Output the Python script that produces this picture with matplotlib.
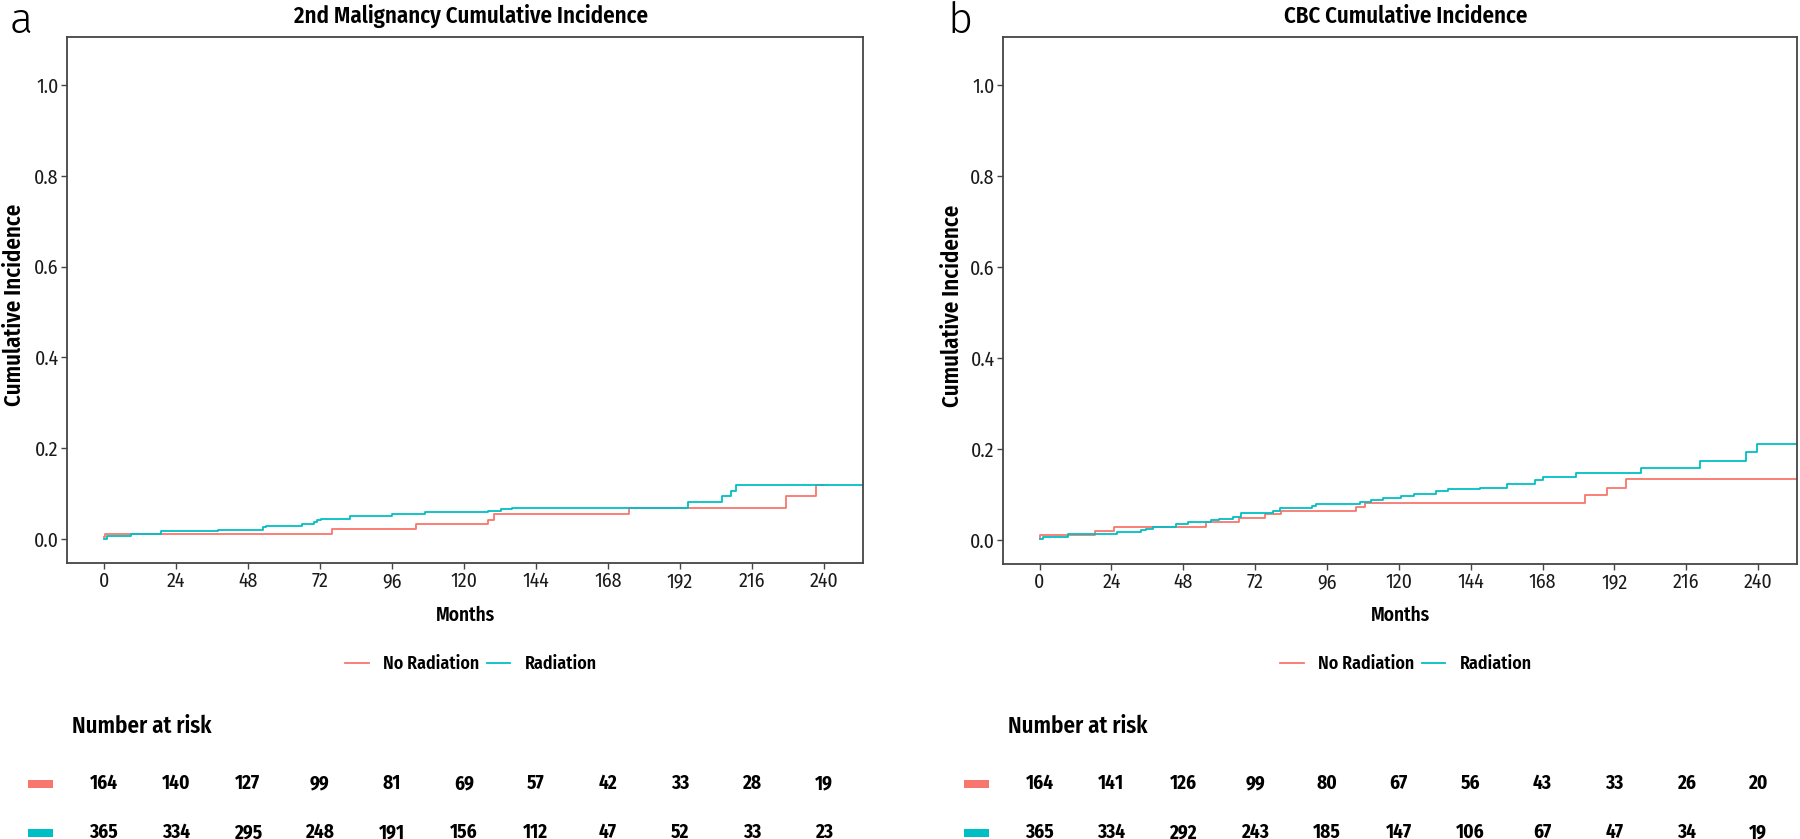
import matplotlib
matplotlib.use("Agg")
import matplotlib.pyplot as plt
from matplotlib.patches import Rectangle
from matplotlib.transforms import blended_transform_factory

plt.rcParams["font.family"] = ["Fira Sans Condensed", "DejaVu Sans"]

RED = "#F8766D"
CYAN = "#00BFC4"

# --- data ---
months_ticks = [0, 24, 48, 72, 96, 120, 144, 168, 192, 216, 240]
group_labels = ["No Radiation", "Radiation"]

# panel a: 2nd malignancy
a_norad_t = [0, 0.3, 76, 104, 128, 130, 175, 227.5, 237.3, 240]
a_norad_v = [0.004, 0.012, 0.022, 0.033, 0.042, 0.054, 0.068, 0.094, 0.118, 0.118]
a_rad_t = [0, 1, 9, 19, 38, 53, 54, 66, 70, 71, 72.5, 82, 96, 107, 128, 132.5,
           136, 194.8, 206, 209, 210.8, 254]
a_rad_v = [0.0, 0.007, 0.012, 0.017, 0.0205, 0.026, 0.029, 0.034, 0.037, 0.041,
           0.045, 0.050, 0.054, 0.059, 0.062, 0.066, 0.068, 0.081, 0.094, 0.105,
           0.118, 0.118]
a_risk_norad = [164, 140, 127, 99, 81, 69, 57, 42, 33, 28, 19]
a_risk_rad = [365, 334, 295, 248, 191, 156, 112, 47, 52, 33, 23]

# panel b: CBC
b_norad_t = [0, 0.3, 18.4, 25, 55.5, 66.6, 75.2, 80.7, 105.8, 108.6, 182.3,
             189.5, 195.9, 254]
b_norad_v = [0.003, 0.0103, 0.019, 0.029, 0.040, 0.048, 0.057, 0.063, 0.072,
             0.082, 0.0985, 0.115, 0.135, 0.135]
b_rad_t = [0, 1, 9.5, 26, 34, 35.6, 38, 45.7, 49.5, 57.3, 60, 64.6, 67.4, 78,
           80.2, 91, 92.4, 107, 110.8, 114.7, 120.8, 125, 132.3, 136.4, 147,
           156.3, 165.6, 168, 179.3, 200.9, 220.5, 236, 239.7, 254]
b_rad_v = [0.0015, 0.006, 0.014, 0.018, 0.021, 0.025, 0.029, 0.035, 0.039,
           0.043, 0.047, 0.051, 0.060, 0.063, 0.071, 0.075, 0.080, 0.083, 0.088,
           0.092, 0.096, 0.102, 0.107, 0.111, 0.115, 0.123, 0.132, 0.139, 0.147,
           0.159, 0.173, 0.193, 0.212, 0.212]
b_risk_norad = [164, 141, 126, 99, 80, 67, 56, 43, 33, 26, 20]
b_risk_rad = [365, 334, 292, 243, 185, 147, 106, 67, 47, 34, 19]

W, H = 1800, 839
fig = plt.figure(figsize=(W / 100, H / 100), dpi=100)
renderer = fig.canvas.get_renderer()


def px(x, y):
    return x / W, 1 - y / H


def size_for(s, width_px, **kw):
    # font size that makes string s about width_px wide (widths)
    t = fig.text(0, 0, s, fontsize=10, **kw)
    w = t.get_window_extent(renderer).width
    t.remove()
    return 10 * width_px / w


fs_title = size_for("2nd Malignancy Cumulative Incidence", 357, fontweight=600)
fs_xlab = size_for("Months", 60, fontweight=600)
fs_leg = size_for("No Radiation", 96, fontweight=600)
fs_risk_head = size_for("Number at risk", 141, fontweight=600)
fs_tick = size_for("120", 27, fontweight=400)
fs_num = size_for("164", 28, fontweight=700)

panels = [
    dict(box=(67, 37, 863, 563), letter="a", letter_x=10, ylab_x=14,
         title="2nd Malignancy Cumulative Incidence",
         curves=[(a_norad_t, a_norad_v), (a_rad_t, a_rad_v)],
         risk=[a_risk_norad, a_risk_rad]),
    dict(box=(1003, 37, 1797, 564), letter="b", letter_x=947, ylab_x=952,
         title="CBC Cumulative Incidence",
         curves=[(b_norad_t, b_norad_v), (b_rad_t, b_rad_v)],
         risk=[b_risk_norad, b_risk_rad]),
]

for p in panels:
    x0, y0, x1, y1 = p["box"]
    ax = fig.add_axes([x0 / W, 1 - y1 / H, (x1 - x0) / W, (y1 - y0) / H])
    for (t, v), c, lab in zip(p["curves"], [RED, CYAN], group_labels):
        ax.step(t, v, where="post", color=c, lw=1.3, label=lab)
    ax.set_xlim(-12.2, 253)
    ax.set_ylim(-0.053, 1.106)
    ax.set_xticks(months_ticks)
    ax.set_yticks([0, 0.2, 0.4, 0.6, 0.8, 1.0])
    ax.set_yticklabels([f"{v:.1f}" for v in [0, 0.2, 0.4, 0.6, 0.8, 1.0]])
    ax.tick_params(length=4, width=1, color="#444444", labelsize=fs_tick,
                   labelcolor="#1a1a1a", pad=2)
    for s in ax.spines.values():
        s.set_color("#444444")
        s.set_linewidth(1.3)

    cx = (x0 + x1) / 2
    fig.text(*px(p["letter_x"], 33), p["letter"], fontsize=31,
             family=["Fira Sans", "DejaVu Sans"], fontweight=300, va="baseline")
    fig.text(*px(cx + 6, 23), p["title"], fontsize=fs_title, fontweight=600,
             ha="center", va="baseline")
    fig.text(*px(p["ylab_x"], (y0 + y1) / 2 + 5), "Cumulative Incidence",
             fontsize=fs_title, fontweight=600, rotation=90, ha="center", va="center")
    fig.text(*px(cx, 615), "Months", fontsize=fs_xlab, fontweight=600,
             ha="center", va="center")

    ax.legend(loc="center", bbox_to_anchor=((cx + 6) / W, 1 - 664 / H),
              bbox_transform=fig.transFigure, ncol=2, frameon=False,
              prop={"weight": 600, "size": fs_leg},
              handlelength=1.3, handletextpad=0.8, columnspacing=0.45)

    # number at risk table
    fig.text(*px(x0 + 5, 733), "Number at risk", fontsize=fs_risk_head,
             fontweight=600, va="baseline")
    trans = blended_transform_factory(ax.transData, fig.transFigure)
    for row, c, yy in zip(p["risk"], [RED, CYAN], [783.5, 832.5]):
        fig.add_artist(Rectangle(px(x0 - 39, yy + 4), 25 / W, 8 / H,
                                 transform=fig.transFigure, color=c, lw=0))
        for m, n in zip(months_ticks, row):
            ax.text(m, 1 - yy / H, str(n), transform=trans, ha="center",
                    va="center", fontsize=fs_num, fontweight=700, clip_on=False)

fig.savefig("out.png", dpi=100)
